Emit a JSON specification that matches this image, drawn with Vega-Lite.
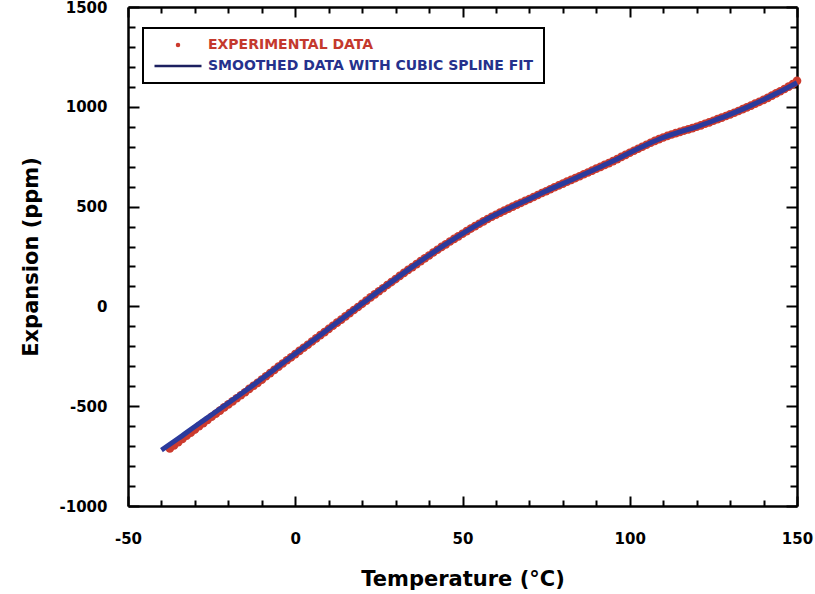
{
  "$schema": "https://vega.github.io/schema/vega-lite/v6.json",
  "width": 669,
  "height": 499,
  "autosize": {"type": "none"},
  "padding": {"left": 128, "top": 7, "right": 18, "bottom": 88},
  "background": "white",
  "config": {"view": {"stroke": null}, "legend": {"strokeWidth": 2}},
  "datasets": {
    "experimental": [
      {"t": -37.5, "e": -712}, {"t": -36.25, "e": -697}, {"t": -35, "e": -680}, {"t": -33.75, "e": -664},
      {"t": -32.5, "e": -648}, {"t": -31.25, "e": -633}, {"t": -30, "e": -617}, {"t": -28.75, "e": -600},
      {"t": -27.5, "e": -585}, {"t": -26.25, "e": -569}, {"t": -25, "e": -553}, {"t": -23.75, "e": -538},
      {"t": -22.5, "e": -522}, {"t": -21.25, "e": -506}, {"t": -20, "e": -491}, {"t": -18.75, "e": -476},
      {"t": -17.5, "e": -460}, {"t": -16.25, "e": -445}, {"t": -15, "e": -430}, {"t": -13.75, "e": -413},
      {"t": -12.5, "e": -398}, {"t": -11.25, "e": -383}, {"t": -10, "e": -367}, {"t": -8.75, "e": -350},
      {"t": -7.5, "e": -334}, {"t": -6.25, "e": -318}, {"t": -5, "e": -302}, {"t": -3.75, "e": -286},
      {"t": -2.5, "e": -270}, {"t": -1.25, "e": -255}, {"t": 0, "e": -239}, {"t": 1.25, "e": -223},
      {"t": 2.5, "e": -207}, {"t": 3.75, "e": -192}, {"t": 5, "e": -176}, {"t": 6.25, "e": -160},
      {"t": 7.5, "e": -144}, {"t": 8.75, "e": -129}, {"t": 10, "e": -113}, {"t": 11.25, "e": -97},
      {"t": 12.5, "e": -81}, {"t": 13.75, "e": -66}, {"t": 15, "e": -50}, {"t": 16.25, "e": -34},
      {"t": 17.5, "e": -18}, {"t": 18.75, "e": -3}, {"t": 20, "e": 13}, {"t": 21.25, "e": 29},
      {"t": 22.5, "e": 45}, {"t": 23.75, "e": 60}, {"t": 25, "e": 76}, {"t": 26.25, "e": 91},
      {"t": 27.5, "e": 107}, {"t": 28.75, "e": 122}, {"t": 30, "e": 137}, {"t": 31.25, "e": 153},
      {"t": 32.5, "e": 168}, {"t": 33.75, "e": 183}, {"t": 35, "e": 197}, {"t": 36.25, "e": 212},
      {"t": 37.5, "e": 227}, {"t": 38.75, "e": 241}, {"t": 40, "e": 255}, {"t": 41.25, "e": 270},
      {"t": 42.5, "e": 284}, {"t": 43.75, "e": 298}, {"t": 45, "e": 311}, {"t": 46.25, "e": 325},
      {"t": 47.5, "e": 338}, {"t": 48.75, "e": 351}, {"t": 50, "e": 364}, {"t": 51.25, "e": 377},
      {"t": 52.5, "e": 390}, {"t": 53.75, "e": 402}, {"t": 55, "e": 414}, {"t": 56.25, "e": 426},
      {"t": 57.5, "e": 438}, {"t": 58.75, "e": 449}, {"t": 60, "e": 459}, {"t": 61.25, "e": 470},
      {"t": 62.5, "e": 480}, {"t": 63.75, "e": 490}, {"t": 65, "e": 500}, {"t": 66.25, "e": 510},
      {"t": 67.5, "e": 519}, {"t": 68.75, "e": 529}, {"t": 70, "e": 538}, {"t": 71.25, "e": 548},
      {"t": 72.5, "e": 558}, {"t": 73.75, "e": 568}, {"t": 75, "e": 577}, {"t": 76.25, "e": 587},
      {"t": 77.5, "e": 597}, {"t": 78.75, "e": 606}, {"t": 80, "e": 615}, {"t": 81.25, "e": 625},
      {"t": 82.5, "e": 634}, {"t": 83.75, "e": 643}, {"t": 85, "e": 652}, {"t": 86.25, "e": 662},
      {"t": 87.5, "e": 671}, {"t": 88.75, "e": 680}, {"t": 90, "e": 690}, {"t": 91.25, "e": 699},
      {"t": 92.5, "e": 709}, {"t": 93.75, "e": 718}, {"t": 95, "e": 728}, {"t": 96.25, "e": 738},
      {"t": 97.5, "e": 749}, {"t": 98.75, "e": 759}, {"t": 100, "e": 770}, {"t": 101.25, "e": 780},
      {"t": 102.5, "e": 790}, {"t": 103.75, "e": 800}, {"t": 105, "e": 810}, {"t": 106.25, "e": 820},
      {"t": 107.5, "e": 829}, {"t": 108.75, "e": 838}, {"t": 110, "e": 846}, {"t": 111.25, "e": 854},
      {"t": 112.5, "e": 861}, {"t": 113.75, "e": 868}, {"t": 115, "e": 874}, {"t": 116.25, "e": 881},
      {"t": 117.5, "e": 887}, {"t": 118.75, "e": 893}, {"t": 120, "e": 900}, {"t": 121.25, "e": 907},
      {"t": 122.5, "e": 915}, {"t": 123.75, "e": 922}, {"t": 125, "e": 930}, {"t": 126.25, "e": 938},
      {"t": 127.5, "e": 946}, {"t": 128.75, "e": 954}, {"t": 130, "e": 962}, {"t": 131.25, "e": 970},
      {"t": 132.5, "e": 979}, {"t": 133.75, "e": 988}, {"t": 135, "e": 997}, {"t": 136.25, "e": 1006},
      {"t": 137.5, "e": 1016}, {"t": 138.75, "e": 1025}, {"t": 140, "e": 1035}, {"t": 141.25, "e": 1045},
      {"t": 142.5, "e": 1056}, {"t": 143.75, "e": 1067}, {"t": 145, "e": 1078}, {"t": 146.25, "e": 1089},
      {"t": 147.5, "e": 1101}, {"t": 148.75, "e": 1114}, {"t": 150, "e": 1130}
    ],
    "smoothed": [
      {"t": -40, "e": -720}, {"t": -35, "e": -662}, {"t": -30, "e": -602}, {"t": -25, "e": -543},
      {"t": -20, "e": -484}, {"t": -15, "e": -424}, {"t": -10, "e": -363}, {"t": -5, "e": -300},
      {"t": 0, "e": -237}, {"t": 5, "e": -175}, {"t": 10, "e": -112}, {"t": 15, "e": -49},
      {"t": 20, "e": 14}, {"t": 25, "e": 77}, {"t": 30, "e": 138}, {"t": 35, "e": 198},
      {"t": 40, "e": 256}, {"t": 45, "e": 312}, {"t": 50, "e": 365}, {"t": 55, "e": 415},
      {"t": 60, "e": 460}, {"t": 65, "e": 500}, {"t": 70, "e": 538}, {"t": 75, "e": 578},
      {"t": 80, "e": 615}, {"t": 85, "e": 652}, {"t": 90, "e": 690}, {"t": 95, "e": 728},
      {"t": 100, "e": 770}, {"t": 105, "e": 810}, {"t": 110, "e": 846}, {"t": 115, "e": 874},
      {"t": 120, "e": 900}, {"t": 125, "e": 930}, {"t": 130, "e": 962}, {"t": 135, "e": 997},
      {"t": 140, "e": 1035}, {"t": 145, "e": 1077}, {"t": 150, "e": 1120}
    ]
  },
  "layer": [
    {
      "data": {"name": "experimental"},
      "transform": [{"calculate": "'EXPERIMENTAL DATA'", "as": "series"}],
      "mark": {"type": "point", "filled": true, "opacity": 1, "size": 75},
      "encoding": {
        "x": {
          "field": "t", "type": "quantitative",
          "scale": {"domain": [-50, 150], "nice": false, "zero": false},
          "axis": {
            "orient": "bottom",
            "values": [-50, -40, -30, -20, -10, 0, 10, 20, 30, 40, 50, 60, 70, 80, 90, 100, 110, 120, 130, 140, 150],
            "labelExpr": "datum.value % 50 === 0 ? '' + datum.value : ''",
            "tickSize": {"condition": {"test": "datum.value % 50 === 0", "value": -10}, "value": -6},
            "tickWidth": 2, "tickColor": "black",
            "domainWidth": 2.5, "domainColor": "black",
            "grid": false, "labelFlush": false, "labelOverlap": false,
            "labelFont": "DejaVu Sans", "labelFontWeight": "bold", "labelFontSize": 15, "labelColor": "black",
            "labelPadding": 35,
            "title": "Temperature (°C)",
            "titleFont": "DejaVu Sans", "titleFontWeight": "bold", "titleFontSize": 21, "titleColor": "black",
            "titlePadding": 18
          }
        },
        "y": {
          "field": "e", "type": "quantitative",
          "scale": {"domain": [-1000, 1500], "nice": false, "zero": false},
          "axis": {
            "orient": "left",
            "values": [-1000, -900, -800, -700, -600, -500, -400, -300, -200, -100, 0, 100, 200, 300, 400, 500, 600, 700, 800, 900, 1000, 1100, 1200, 1300, 1400, 1500],
            "labelExpr": "datum.value % 500 === 0 ? '' + datum.value : ''",
            "tickSize": {"condition": {"test": "datum.value % 500 === 0", "value": -11}, "value": -7},
            "tickWidth": 2, "tickColor": "black",
            "domainWidth": 2.5, "domainColor": "black",
            "grid": false, "labelFlush": false, "labelOverlap": false,
            "labelFont": "DejaVu Sans", "labelFontWeight": "bold", "labelFontSize": 15, "labelColor": "black",
            "labelPadding": 32,
            "title": "Expansion (ppm)",
            "titleFont": "DejaVu Sans", "titleFontWeight": "bold", "titleFontSize": 21, "titleColor": "black",
            "titlePadding": 18
          }
        },
        "color": {
          "field": "series", "type": "nominal",
          "scale": {
            "domain": ["EXPERIMENTAL DATA", "SMOOTHED DATA WITH CUBIC SPLINE FIT"],
            "range": ["#cc3b2e", "#2b3a9c"]
          },
          "legend": {
            "title": null,
            "orient": "none", "legendX": 15, "legendY": 21,
            "direction": "vertical",
            "fillColor": "white", "strokeColor": "black", "padding": 10,
            "labelFont": "DejaVu Sans", "labelFontWeight": "bold", "labelFontSize": 14, "labelLimit": 0,
            "labelColor": {"expr": "datum.value === 'EXPERIMENTAL DATA' ? '#c4392d' : '#25318c'"},
            "symbolType": {"expr": "datum.value === 'EXPERIMENTAL DATA' ? 'circle' : 'stroke'"},
            "symbolSize": {"expr": "datum.value === 'EXPERIMENTAL DATA' ? 20 : 2209"},
            "symbolStrokeColor": {"expr": "datum.value === 'EXPERIMENTAL DATA' ? 'transparent' : '#1c2060'"},
            "symbolStrokeWidth": 2.5,
            "symbolOpacity": 1,
            "clipHeight": 14,
            "symbolOffset": 0, "labelOffset": 5, "rowPadding": 7
          }
        }
      }
    },
    {
      "data": {"name": "smoothed"},
      "mark": {"type": "line", "strokeWidth": 5, "interpolate": "monotone", "color": "#2b3a9c"},
      "encoding": {
        "x": {
          "field": "t", "type": "quantitative",
          "axis": {
            "orient": "top",
            "values": [-50, -40, -30, -20, -10, 0, 10, 20, 30, 40, 50, 60, 70, 80, 90, 100, 110, 120, 130, 140, 150],
            "labels": false,
            "tickSize": {"condition": {"test": "datum.value % 50 === 0", "value": -10}, "value": -6},
            "tickWidth": 2, "tickColor": "black",
            "domainWidth": 2.5, "domainColor": "black",
            "grid": false, "title": null
          }
        },
        "y": {
          "field": "e", "type": "quantitative",
          "axis": {
            "orient": "right",
            "values": [-1000, -900, -800, -700, -600, -500, -400, -300, -200, -100, 0, 100, 200, 300, 400, 500, 600, 700, 800, 900, 1000, 1100, 1200, 1300, 1400, 1500],
            "labels": false,
            "tickSize": {"condition": {"test": "datum.value % 500 === 0", "value": -11}, "value": -7},
            "tickWidth": 2, "tickColor": "black",
            "domainWidth": 2.5, "domainColor": "black",
            "grid": false, "title": null
          }
        }
      }
    }
  ],
  "resolve": {"axis": {"x": "independent", "y": "independent"}}
}
